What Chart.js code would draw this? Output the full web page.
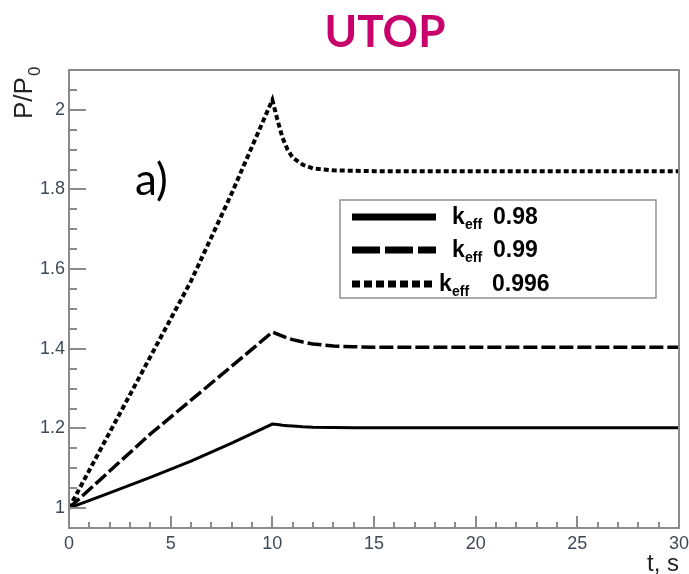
<!DOCTYPE html>
<html>
<head>
<meta charset="utf-8">
<script src="https://cdn.jsdelivr.net/npm/chart.js@4.4.1/dist/chart.umd.min.js"></script>
<style>
  html, body { margin: 0; padding: 0; background: #fff; }
  canvas { display: block; }
</style>
</head>
<body>
<canvas id="chart" width="689" height="574"></canvas>
<script>
// time points, s
const times = [0, 2, 4, 6, 8, 10, 10.25, 10.5, 10.75, 11, 11.5, 12, 13, 14, 15, 20, 25, 30];
// P/P0 for each keff
const keff098 = [1, 1.038, 1.077, 1.118, 1.163, 1.211, 1.21, 1.208, 1.207, 1.206, 1.204, 1.203, 1.2025, 1.202, 1.202, 1.202, 1.202, 1.202];
const keff099 = [1, 1.093, 1.186, 1.271, 1.356, 1.442, 1.437, 1.432, 1.427, 1.423, 1.417, 1.412, 1.407, 1.405, 1.404, 1.404, 1.404, 1.404];
const keff0996 = [1, 1.19, 1.38, 1.57, 1.79, 2.025, 1.975, 1.93, 1.9, 1.88, 1.862, 1.853, 1.848, 1.847, 1.846, 1.846, 1.846, 1.846];
const seriesNames = ["0.98", "0.99", "0.996"];
const xTicks = [0, 5, 10, 15, 20, 25, 30];
const yTicks = [1, 1.2, 1.4, 1.6, 1.8, 2];

const TITLE = "UTOP";
const PANEL = "a)";
const AXIS_GRAY = "#8a8a8a";
const TICK_COLOR = "#3f4954";

function toPoints(values) {
  return values.map((v, i) => ({ x: times[i], y: v }));
}

// draws frame, inner ticks, texts and the legend
const decorations = {
  id: "decorations",
  afterDatasetsDraw(chart) {
    const { ctx, chartArea: a, scales } = chart;
    const xs = scales.x, ys = scales.y;
    ctx.save();
    ctx.strokeStyle = AXIS_GRAY;
    ctx.lineWidth = 2;
    ctx.strokeRect(a.left, a.top, a.right - a.left, a.bottom - a.top);

    // inner ticks on x
    for (let t = 0; t <= 30; t += 1) {
      const px = Math.round(xs.getPixelForValue(t));
      const len = t % 5 === 0 ? 12 : 6;
      ctx.beginPath();
      ctx.moveTo(px, a.bottom);
      ctx.lineTo(px, a.bottom - len);
      ctx.stroke();
    }
    // inner ticks on y
    for (let k = 0; k <= 23; k++) {
      const v = 0.95 + k * 0.05;
      const py = Math.round(ys.getPixelForValue(v));
      const major = Math.abs((v * 5) - Math.round(v * 5)) < 1e-6;
      const len = major ? 17 : 8;
      ctx.beginPath();
      ctx.moveTo(a.left, py);
      ctx.lineTo(a.left + len, py);
      ctx.stroke();
    }

    // title
    ctx.fillStyle = "#c8006c";
    ctx.font = "bold 44px Lato";
    ctx.textAlign = "center";
    ctx.textBaseline = "alphabetic";
    ctx.fillText(TITLE, 385, 47);

    // panel label
    ctx.fillStyle = "#000";
    ctx.font = "44px Lato";
    ctx.textAlign = "left";
    ctx.fillText(PANEL, 135, 195);

    // y title P/P0
    ctx.save();
    ctx.fillStyle = "#222";
    ctx.translate(32, 119);
    ctx.rotate(-Math.PI / 2);
    ctx.font = "26px 'Liberation Sans'";
    ctx.fillText("P/P", 0, 0);
    const w = ctx.measureText("P/P").width;
    ctx.font = "17px 'Liberation Sans'";
    ctx.fillText("0", w + 1, 8);
    ctx.restore();

    // x title
    ctx.fillStyle = "#222";
    ctx.font = "24px 'Liberation Sans'";
    ctx.textAlign = "right";
    ctx.fillText("t, s", 679, 571);

    // legend
    ctx.fillStyle = "#fff";
    ctx.fillRect(340, 200, 316, 98);
    ctx.strokeStyle = "#909090";
    ctx.lineWidth = 1.5;
    ctx.strokeRect(340, 200, 316, 98);
    const rows = [217, 250, 284];
    const kx = [452, 452, 439];
    const vx = [493, 493, 492];
    chart.data.datasets.forEach((ds, i) => {
      const y = rows[i];
      ctx.save();
      ctx.strokeStyle = "#000";
      ctx.lineWidth = 7;
      ctx.setLineDash(ds.legendDash);
      ctx.beginPath();
      ctx.moveTo(352, y);
      ctx.lineTo(436, y);
      ctx.stroke();
      ctx.restore();
      ctx.fillStyle = "#000";
      ctx.textAlign = "left";
      ctx.font = "bold 23px 'Liberation Sans'";
      ctx.fillText("k", kx[i], y + 7);
      ctx.font = "bold 14px 'Liberation Sans'";
      ctx.fillText("eff", kx[i] + 13, y + 12);
      ctx.font = "bold 23px 'Liberation Sans'";
      ctx.fillText(seriesNames[i], vx[i], y + 7);
    });
    ctx.restore();
  },
};

new Chart(document.getElementById("chart"), {
  type: "line",
  data: {
    datasets: [
      {
        label: "keff " + seriesNames[0],
        data: toPoints(keff098),
        borderColor: "#000",
        borderWidth: 3,
        borderDash: [],
        legendDash: [],
      },
      {
        label: "keff " + seriesNames[1],
        data: toPoints(keff099),
        borderColor: "#000",
        borderWidth: 3.5,
        borderDash: [14, 4],
        legendDash: [28, 5],
      },
      {
        label: "keff " + seriesNames[2],
        data: toPoints(keff0996),
        borderColor: "#000",
        borderWidth: 4,
        borderDash: [5, 3],
        legendDash: [8, 4],
      },
    ],
  },
  options: {
    responsive: false,
    animation: false,
    devicePixelRatio: 1,
    layout: { padding: { top: 70, right: 10, left: 0, bottom: 0 } },
    elements: {
      point: { radius: 0 },
      line: { tension: 0 },
    },
    plugins: {
      legend: { display: false },
      title: { display: false },
      tooltip: { enabled: false },
    },
    scales: {
      x: {
        type: "linear",
        min: 0,
        max: 30,
        afterBuildTicks: (scale) => {
          scale.ticks = xTicks.map((v) => ({ value: v }));
        },
        afterFit: (scale) => {
          scale.height = 46;
          scale.paddingLeft = 0;
          scale.paddingRight = 0;
        },
        ticks: {
          color: TICK_COLOR,
          font: { family: "'Liberation Sans'", size: 18 },
          padding: 5,
          maxRotation: 0,
          callback: (v) => String(v),
        },
        grid: { display: false, drawTicks: false },
        border: { display: true, color: AXIS_GRAY, width: 2 },
      },
      y: {
        min: 0.95,
        max: 2.1,
        afterBuildTicks: (scale) => {
          scale.ticks = yTicks.map((v) => ({ value: v }));
        },
        afterFit: (scale) => {
          scale.width = 69;
          scale.paddingTop = 0;
          scale.paddingBottom = 0;
        },
        ticks: {
          color: TICK_COLOR,
          font: { family: "'Liberation Sans'", size: 18 },
          padding: 4,
          callback: (v) => String(Math.round(v * 100) / 100),
        },
        grid: { display: false, drawTicks: false },
        border: { display: true, color: AXIS_GRAY, width: 2 },
      },
    },
  },
  plugins: [decorations],
});
</script>
</body>
</html>
